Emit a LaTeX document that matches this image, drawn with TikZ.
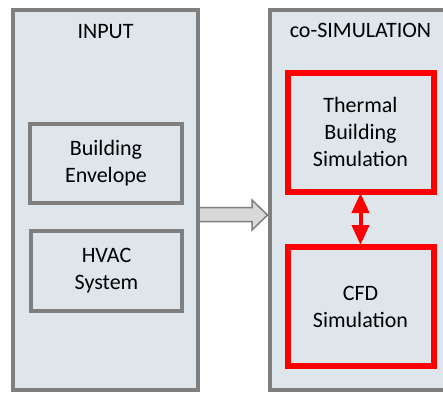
\documentclass[tikz,border=0pt]{standalone}
\usepackage{fontspec}
\setmainfont{Carlito}
\usetikzlibrary{arrows.meta}
\definecolor{panelfill}{HTML}{DEE5EB}
\definecolor{framegrey}{HTML}{7F7F7F}
\definecolor{arrowfill}{HTML}{D9D9D9}
\begin{document}
\begin{tikzpicture}[x=1pt,y=-1pt,
  boxfont/.style={font=\fontsize{22}{27}\selectfont},
  panel/.style={draw=framegrey,line width=4pt,fill=panelfill,
    minimum width=185pt,minimum height=380pt,outer sep=0pt,inner sep=0pt},
  inbox/.style={draw=framegrey,line width=4pt,fill=panelfill,outer sep=0pt,
    inner sep=0pt,align=center,boxfont},
  simbox/.style={draw=red,line width=6pt,fill=panelfill,outer sep=0pt,
    inner sep=0pt,minimum width=146pt,minimum height=119pt,align=center,boxfont},
  title/.style={anchor=base,boxfont},
  flow/.style={draw=framegrey,line width=1.5pt,fill=arrowfill,line join=miter},
  link/.style={draw=red,line width=4pt,
    {Triangle[length=20pt,width=17pt]}-{Triangle[length=20pt,width=17pt]}}
]
\useasboundingbox (0,0) rectangle (443,392);
\clip (0,0) rectangle (443,392);

% the two panels
\node[panel] (input) at (105.5,200) {};
\node[panel] (cosim) at (362,200) {};

% hand-over arrow from the input panel to the co-simulation panel
\coordinate (flowstart) at (input.east |- 0,214.5);
\coordinate (flowtip) at ([xshift=-2pt]cosim.west |- 0,215);
\draw[flow] ([yshift=7pt]flowstart) -- ([yshift=7pt]flowstart -| 252,0)
  -- (252,200) -- (flowtip) -- (252,230) -- ([yshift=-7pt]flowstart -| 252,0)
  -- ([yshift=-7pt]flowstart) -- cycle;
% redraw the panel border over the arrow's root
\draw[framegrey,line width=4pt] (input.north east) -- (input.south east);

% panel titles
\node[title] (inputtitle) at (105.5,38) {INPUT};
\node[title] (cosimtitle) at (360.5,37) {co-SIMULATION};

% input boxes
\node[inbox,minimum width=152pt,minimum height=79pt] (envelope) at (106,163.5)
  {Building\\Envelope};
\node[inbox,minimum width=151pt,minimum height=80pt] (hvac) at (106.5,271)
  {HVAC\\System};

% coupled simulations
\node[simbox] (thermal) at (360.5,132) {Thermal\\Building\\Simulation};
\node[simbox] (cfd) at (360.5,306.5) {CFD\\Simulation};
\draw[link,shorten <=1.5pt,shorten >=2pt] (thermal.south) -- (cfd.north);
\end{tikzpicture}
\end{document}
